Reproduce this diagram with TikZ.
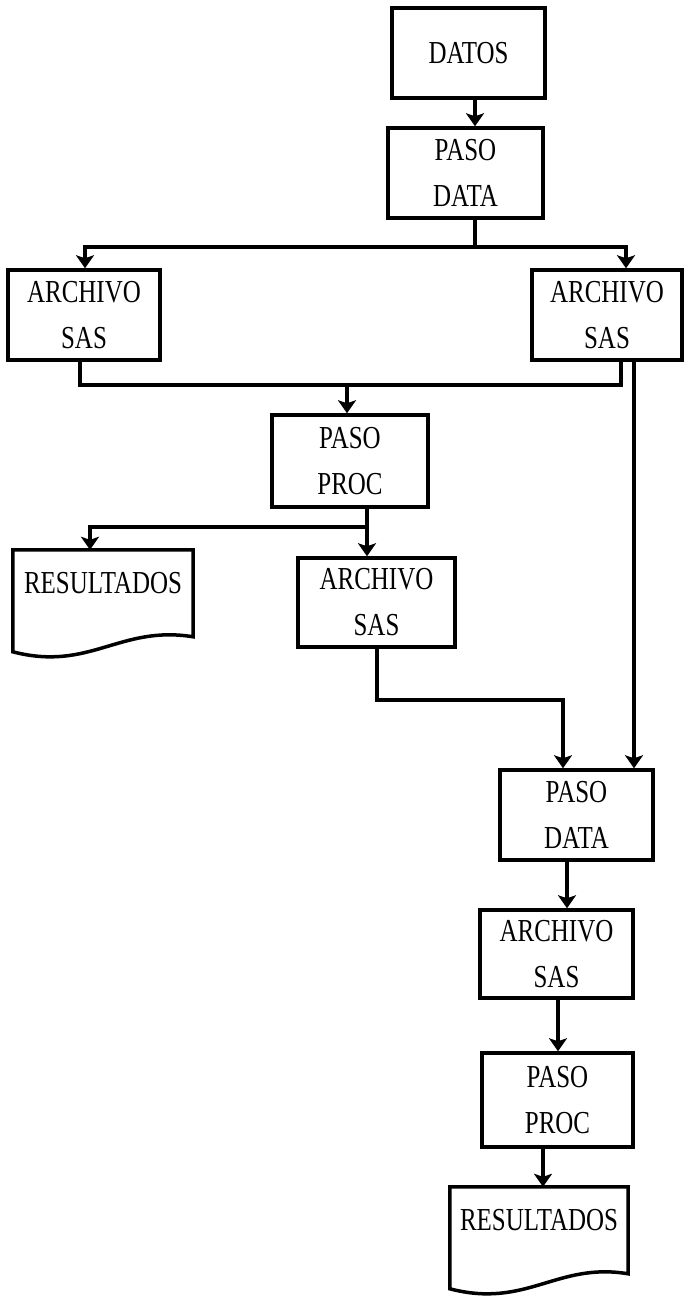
\documentclass[tikz,border=0pt]{standalone}
\usepackage{fontspec}
\setmainfont{Liberation Serif}
\usetikzlibrary{arrows.meta,calc}
\newcommand\tx[1]{\scalebox{0.78}[1]{#1}}
\newcommand\DocOutline[1]{%
  \draw[boxline] (#1.north west) -- (#1.north east) -- ($(#1.north east)+(0,87)$)
    .. controls ($(#1.north west)+(107,75)$) and ($(#1.north west)+(77,122)$)
    .. ($(#1.north west)+(0,102)$) -- cycle;}
\begin{document}
\begin{tikzpicture}[x=1pt,y=-1pt,
  boxline/.style={line width=3.5pt, line join=miter},
  blk/.style={draw, boxline, rectangle, inner sep=0pt, align=center,
    font=\fontsize{32}{46}\selectfont},
  docnode/.style={rectangle, inner sep=0pt, align=center,
    font=\fontsize{32}{46}\selectfont, minimum width=180pt, minimum height=66pt},
  conn/.style={line width=3.5pt},
  arr/.style={conn, -{Stealth[length=13pt,width=18pt,inset=3pt]}}]
\useasboundingbox (0,0) rectangle (684,1302);
\fill[white] (0,0) rectangle (684,1302);

% nodes
\node[blk, minimum width=153pt, minimum height=90pt] (datos) at (468.5,53) {\tx{DATOS}};
\node[blk, minimum width=155pt, minimum height=90pt] (pd1) at (465.5,173) {\tx{PASO}\\\tx{DATA}};
\node[blk, minimum width=152pt, minimum height=90pt] (as1) at (84,315) {\tx{ARCHIVO}\\\tx{SAS}};
\node[blk, minimum width=150pt, minimum height=90pt] (as2) at (607,315) {\tx{ARCHIVO}\\\tx{SAS}};
\node[blk, minimum width=156pt, minimum height=92pt] (pp1) at (350,461) {\tx{PASO}\\\tx{PROC}};
\node[docnode] (res1) at (103,583) {\tx{RESULTADOS}};
\DocOutline{res1}
\node[blk, minimum width=157pt, minimum height=89pt] (as3) at (376.5,602.5) {\tx{ARCHIVO}\\\tx{SAS}};
\node[blk, minimum width=153pt, minimum height=90pt] (pd2) at (576.5,815) {\tx{PASO}\\\tx{DATA}};
\node[blk, minimum width=153pt, minimum height=88pt] (as4) at (556.5,954) {\tx{ARCHIVO}\\\tx{SAS}};
\node[blk, minimum width=151pt, minimum height=94pt] (pp2) at (557.5,1100) {\tx{PASO}\\\tx{PROC}};
\node[docnode, minimum width=178pt] (res2) at (539,1220) {\tx{RESULTADOS}};
\DocOutline{res2}

% routing coordinates
\coordinate (x1) at (475,0);
\coordinate (xa) at (475,247);
\coordinate (xl) at (85,247);
\coordinate (xr) at (626,247);
\coordinate (yl) at (80,385);
\coordinate (yr) at (621,385);
\coordinate (ya) at (347,385);
\coordinate (zr) at (634,0);
\coordinate (pe) at (367,527);
\coordinate (pl) at (90,527);
\coordinate (f1) at (377,700);
\coordinate (f2) at (563,700);
\coordinate (g1) at (567,0);
\coordinate (g2) at (558,0);
\coordinate (g3) at (543,0);

% connectors
\draw[arr] (datos.south -| x1) -- (pd1.north -| x1);
\draw[conn] (pd1.south -| xa) -- (xa);
\draw[arr] (xa) -| (as1.north -| xl);
\draw[arr] (xa) -| (as2.north -| xr);
\draw[conn] (as1.south -| yl) -- (yl) -- (yr) -- (as2.south -| yr);
\draw[arr] (ya) -- (pp1.north -| ya);
\draw[arr] (as2.south -| zr) -- (pd2.north -| zr);
\draw[arr] (pp1.south -| pe) -- (as3.north -| pe);
\draw[arr] (pe) -| (res1.north -| pl);
\draw[arr] (as3.south -| f1) -- (f1) -- (f2) -- (pd2.north -| f2);
\draw[arr] (pd2.south -| g1) -- (as4.north -| g1);
\draw[arr] (as4.south -| g2) -- (pp2.north -| g2);
\draw[arr] (pp2.south -| g3) -- (res2.north -| g3);
\end{tikzpicture}
\end{document}
